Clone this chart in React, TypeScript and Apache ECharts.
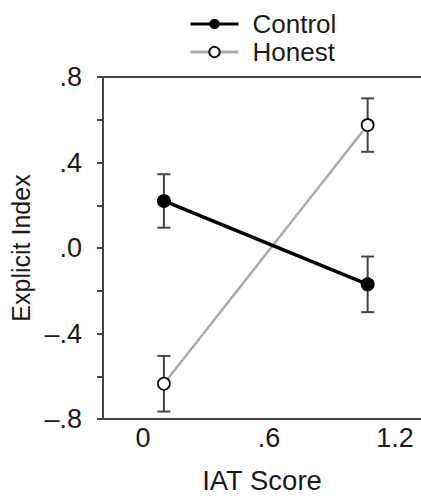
import React, { useEffect, useRef } from "react";
import * as echarts from "echarts";

const xPositions = [0.1, 1.07];
const controlMean = [0.22, -0.17];
const controlErr = [0.125, 0.13];
const honestMean = [-0.635, 0.575];
const honestErr = [0.13, 0.125];
const xTickValues = [0, 0.6, 1.2];
const xTickLabels = ["0", ".6", "1.2"];
const yLabelValues = [-0.8, -0.4, 0, 0.4, 0.8];
const yTickLabels = ["\u2013.8", "\u2013.4", ".0", ".4", ".8"];

const FONT = "Liberation Sans";
const TEXT = "#1a1a1a";

export default function App() {
  const ref = useRef<HTMLDivElement>(null);
  useEffect(() => {
    if (!ref.current) return;
    const chart = echarts.init(ref.current, undefined, { renderer: "svg" });
    const errData: any[] = [];
    xPositions.forEach((x, i) => {
      errData.push([x, controlMean[i] - controlErr[i], controlMean[i] + controlErr[i]]);
      errData.push([x, honestMean[i] - honestErr[i], honestMean[i] + honestErr[i]]);
    });
    const option: any = {
      animation: false,
      textStyle: { fontFamily: FONT },
      legend: {
        orient: "vertical",
        left: 184,
        top: 6,
        itemWidth: 48,
        itemHeight: 13,
        itemGap: 2,
        lineStyle: { width: 3 },
        textStyle: {
          fontFamily: FONT,
          fontSize: 26,
          lineHeight: 26,
          color: TEXT,
          padding: [0, 0, 0, 9],
        },
        data: ["Control", "Honest"],
      },
      grid: {
        left: 103,
        top: 77,
        bottom: 77,
        right: 0,
        containLabel: false,
        outerBoundsMode: "none",
      },
      xAxis: [
        {
          type: "value",
          min: -0.19,
          max: 1.324,
          position: "bottom",
          splitLine: { show: false },
          axisLine: { show: true, onZero: false, lineStyle: { color: "#444", width: 2 } },
          axisTick: { show: false },
          axisLabel: {
            customValues: xTickValues,
            margin: 5,
            fontSize: 27,
            fontFamily: FONT,
            color: TEXT,
            formatter: (v: number) => {
              const idx = xTickValues.findIndex((t) => Math.abs(t - v) < 1e-6);
              return idx >= 0 ? xTickLabels[idx] : "";
            },
          },
          name: "IAT Score",
          nameLocation: "middle",
          nameGap: 48,
          nameTextStyle: { fontSize: 27.5, lineHeight: 26, fontFamily: FONT, color: TEXT },
        },
        {
          type: "value",
          min: -0.19,
          max: 1.324,
          position: "top",
          splitLine: { show: false },
          axisLine: { show: true, onZero: false, lineStyle: { color: "#444", width: 2 } },
          axisTick: { show: false },
          axisLabel: { show: false },
        },
      ],
      yAxis: {
        type: "value",
        min: -0.8,
        max: 0.8,
        interval: 0.2,
        splitLine: { show: false },
        axisLine: { show: true, onZero: false, lineStyle: { color: "#444", width: 2 } },
        axisTick: { show: true, length: 6, lineStyle: { color: "#444", width: 2 } },
        axisLabel: {
          customValues: yLabelValues,
          margin: 21,
          fontSize: 27,
          fontFamily: FONT,
          color: TEXT,
          formatter: (v: number) => {
            const idx = yLabelValues.findIndex((t) => Math.abs(t - v) < 1e-6);
            return idx >= 0 ? yTickLabels[idx] : "";
          },
        },
        name: "Explicit Index",
        nameLocation: "middle",
        nameGap: 68,
        nameTextStyle: { fontSize: 25, fontFamily: FONT, color: TEXT },
      },
      series: [
        {
          type: "custom",
          name: "err",
          z: 1,
          silent: true,
          renderItem: (params: any, api: any) => {
            const x = api.value(0);
            const lo = api.coord([x, api.value(1)]);
            const hi = api.coord([x, api.value(2)]);
            const hw = 6.5;
            const style = { stroke: "#444", lineWidth: 2 };
            return {
              type: "group",
              children: [
                { type: "line", shape: { x1: lo[0], y1: lo[1], x2: hi[0], y2: hi[1] }, style },
                { type: "line", shape: { x1: lo[0] - hw, y1: lo[1], x2: lo[0] + hw, y2: lo[1] }, style },
                { type: "line", shape: { x1: hi[0] - hw, y1: hi[1], x2: hi[0] + hw, y2: hi[1] }, style },
              ],
            };
          },
          data: errData,
        },
        {
          type: "line",
          name: "Honest",
          z: 2,
          data: xPositions.map((x, i) => [x, honestMean[i]]),
          symbol: "circle",
          symbolSize: 12,
          lineStyle: { color: "#aaaaaa", width: 2.5 },
          itemStyle: { color: "#ffffff", borderColor: "#111", borderWidth: 1.8 },
        },
        {
          type: "line",
          name: "Control",
          z: 3,
          data: xPositions.map((x, i) => [x, controlMean[i]]),
          symbol: "circle",
          symbolSize: 14,
          lineStyle: { color: "#000000", width: 3.5 },
          itemStyle: { color: "#000000", borderColor: "#000", borderWidth: 0 },
        },
      ],
    };
    chart.setOption(option);
    return () => chart.dispose();
  }, []);
  return (
    <div
      ref={ref}
      style={{ position: "fixed", left: 0, top: 0, width: 421, height: 496, background: "#fff" }}
    />
  );
}
